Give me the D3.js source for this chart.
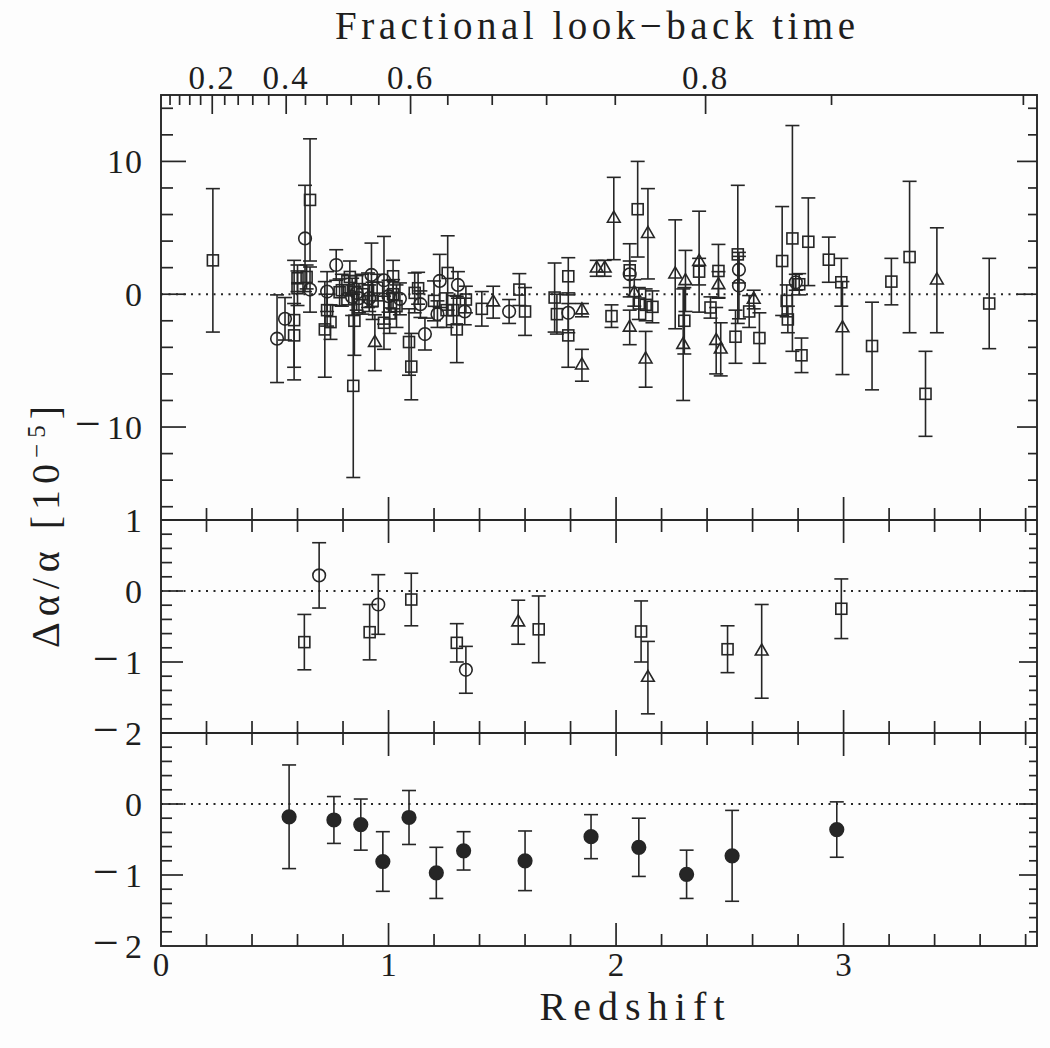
<!DOCTYPE html>
<html><head><meta charset="utf-8">
<script src="https://cdn.jsdelivr.net/npm/d3@7"></script>
<style>html,body{margin:0;padding:0;background:#fff;} svg{display:block;}</style>
</head><body><svg id="c" width="1050" height="1048"></svg>
<script>
// ---------- DATA ----------
// Top panel: individual absorbers [redshift, delta-alpha/alpha (1e-5), 1-sigma error]
const rawSquares = [
 [0.228,2.55,5.4],[0.585,-1.95,4.5],[0.585,-3.1,2.4],[0.60,1.2,1.0],[0.60,0.45,1.3],[0.655,7.1,4.6],
 [0.64,1.3,0.9],[0.73,-1.2,1.2],[0.72,-2.65,3.6],[0.745,-2.1,1.3],[0.785,0.15,1.0],[0.795,0.3,1.2],
 [0.825,0.3,1.1],[0.845,-6.9,6.9],[0.85,-2.0,2.6],[0.83,1.3,1.2],[0.885,0.0,1.5],[0.91,0.3,1.3],
 [0.93,-0.5,1.4],[0.95,0.5,1.0],[0.98,-2.15,2.0],[1.005,-1.45,1.5],[1.02,1.35,1.2],[1.02,0.0,1.1],
 [1.035,-0.9,1.6],[1.09,-3.6,2.5],[1.1,-5.45,2.5],[1.115,0.1,1.5],[1.13,0.45,1.2],[1.2,-0.5,1.5],
 [1.255,-1.2,1.3],[1.26,1.6,2.8],[1.285,-1.2,1.1],[1.3,-2.65,2.5],[1.34,-0.4,1.0],[1.41,-1.1,1.3],
 [1.575,0.35,1.2],[1.6,-1.3,1.8],[1.73,-0.25,2.6],[1.74,-1.5,1.5],[1.79,1.35,1.4],[1.79,-3.1,2.4],
 [1.98,-1.65,0.85],[2.06,1.8,2.0],[2.095,6.4,3.6],[2.1,-0.7,1.2],[2.13,-0.8,1.2],[2.16,-0.95,1.2],
 [2.3,-2.0,2.5],[2.365,1.7,1.0],[2.415,-1.0,0.8],[2.45,1.75,2.0],[2.535,3.0,5.2],[2.525,-3.2,2.0],
 [2.585,-1.3,1.2],[2.63,-3.3,1.9],[2.73,2.5,4.1],[2.75,-0.5,1.2],[2.755,-1.9,1.0],[2.775,4.2,8.5],
 [2.805,0.75,0.8],[2.815,-4.6,1.3],[2.845,3.95,3.3],[2.935,2.6,1.7],[2.99,0.9,1.8],[3.125,-3.9,3.3],
 [3.21,0.95,1.75],[3.29,2.8,5.7],[3.36,-7.5,3.2],[3.64,-0.7,3.4]
];
const rawCircles = [
 [0.51,-3.35,3.3],[0.545,-1.85,1.6],[0.633,4.2,4.0],[0.655,0.35,1.7],[0.73,0.2,1.5],[0.77,2.2,1.15],
 [0.84,-0.2,1.4],[0.86,0.1,1.3],[0.87,-0.3,1.1],[0.915,-0.3,1.0],[0.925,1.45,2.4],[0.98,1.05,3.3],
 [1.0,-0.15,1.2],[1.05,-0.35,1.2],[1.14,-0.75,1.0],[1.16,-3.0,1.2],[1.215,-1.5,1.0],[1.225,1.0,2.0],
 [1.305,0.7,1.0],[1.335,-1.3,1.0],[1.53,-1.3,0.9],[1.79,-1.4,1.5],[2.06,1.5,1.0],[2.54,1.85,1.0],
 [2.54,0.65,2.5],[2.79,0.9,0.6]
];
const rawTriangles = [
 [0.94,-3.65,2.1],[1.46,-0.6,1.2],[1.85,-5.35,1.2],[1.85,-1.2,0.5],[1.915,1.95,0.6],[1.95,1.95,0.6],
 [1.99,5.7,3.1],[2.06,-2.5,1.3],[2.08,0.1,1.0],[2.14,4.55,3.4],[2.13,-4.9,2.1],[2.26,1.5,4.1],
 [2.305,1.0,2.3],[2.295,-3.8,4.2],[2.365,2.45,3.8],[2.44,-3.5,2.5],[2.45,0.7,1.0],[2.46,-4.15,2.0],
 [2.605,-0.4,0.7],[2.995,-2.55,3.5],[3.41,1.05,3.95]
];
// Middle panel: binned per sample
const binSquares = [[0.63,-0.72,0.39],[0.917,-0.58,0.39],[1.1,-0.12,0.37],[1.3,-0.73,0.27],[1.66,-0.54,0.47],
 [2.11,-0.57,0.43],[2.49,-0.82,0.33],[2.99,-0.25,0.42]];
const binCircles = [[0.695,0.22,0.46],[0.955,-0.19,0.42],[1.34,-1.11,0.33]];
const binTriangles = [[1.57,-0.44,0.31],[2.14,-1.22,0.51],[2.64,-0.85,0.66]];
// Bottom panel: all samples binned
const binAll = [[0.563,-0.18,0.73],[0.76,-0.225,0.33],[0.878,-0.29,0.36],[0.975,-0.81,0.42],[1.09,-0.19,0.38],
 [1.21,-0.97,0.36],[1.33,-0.66,0.27],[1.6,-0.8,0.42],[1.89,-0.46,0.31],[2.1,-0.61,0.41],[2.31,-0.99,0.34],
 [2.51,-0.73,0.64],[2.97,-0.36,0.39]];
// Axis tick labels
const xLabels = [0,1,2,3];
const lookbackLabels = [0.2,0.4,0.6,0.8];
const topYLabels = [10,0,-10];
const midYLabels = [1,0,-1,-2];
const botYLabels = [0,-1,-2];

// ---------- LAYOUT ----------
const svg = d3.select("#c");
const L=161, R=1037, T=95, B1=520, B2=733, B3=946;
const ink="#262626", font="'Liberation Serif','DejaVu Serif',serif";
svg.append("rect").attr("width",1050).attr("height",1048).attr("fill","#fdfdfd");

const x = d3.scaleLinear().domain([0,3.85]).range([L,R]);
const yTop = d3.scaleLinear().domain([-17,15]).range([B1,T]);
const yMid = d3.scaleLinear().domain([-2,1]).range([B2,B1]);
const yBot = d3.scaleLinear().domain([-2,1]).range([B3,B2]);

// look-back time fraction -> redshift (flat, Om=0.3, OL=0.7)
const kC = Math.sqrt(0.7/0.3), A0 = Math.asinh(kC);
const zOfF = f => Math.pow(Math.sinh((1-f)*A0)/kC, -2/3) - 1;

// ---------- FRAME ----------
const frame = svg.append("g").attr("stroke",ink).attr("stroke-width",1.9).attr("fill","none");
frame.append("rect").attr("x",L).attr("y",T).attr("width",R-L).attr("height",B3-T);
[B1,B2].forEach(b=>frame.append("line").attr("x1",L).attr("x2",R).attr("y1",b).attr("y2",b));

// ---------- TICKS ----------
const tk = svg.append("g").attr("stroke",ink).attr("stroke-width",1.7);
function vt(xpos, y0, len){ tk.append("line").attr("x1",xpos).attr("x2",xpos).attr("y1",y0).attr("y2",y0+len); }
function ht(ypos, x0, len){ tk.append("line").attr("y1",ypos).attr("y2",ypos).attr("x1",x0).attr("x2",x0+len); }
const isInt = v => Math.abs(v-Math.round(v))<1e-6;
const xt = d3.range(1,20).map(i=>i*0.2).filter(v=>v<3.85);
xt.forEach(v=>{
  const len = isInt(v)?23:12;
  vt(x(v), B1, -len); vt(x(v), B1, len);
  vt(x(v), B2, -len); vt(x(v), B2, len);
  vt(x(v), B3, -len);
});
// top look-back axis
d3.range(1,23).map(i=>+(i*0.04).toFixed(2)).forEach(f=>{
  const major = lookbackLabels.some(l=>Math.abs(l-f)<1e-6);
  vt(x(zOfF(f)), T, major?19:10);
});
// y ticks top panel
d3.range(-16,15,2).forEach(v=>{
  const major = v%10===0;
  ht(yTop(v), L, major?25:12); ht(yTop(v), R, major?-20:-9);
});
[[yMid,-2,1],[yBot,-2,1]].forEach(([s,a,b])=>{
  d3.range(0,16).map(i=>+(a+i*0.2).toFixed(2)).filter(v=>v>a&&v<b).forEach(v=>{
    const major = isInt(v);
    ht(s(v), L, major?22:11); ht(s(v), R, major?-18:-8);
  });
});

// ---------- ZERO LINES ----------
[yTop(0),yMid(0),yBot(0)].forEach(yy=>svg.append("line").attr("x1",L).attr("x2",R).attr("y1",yy).attr("y2",yy)
  .attr("stroke",ink).attr("stroke-width",1.9).attr("stroke-dasharray","2,5.5"));

// ---------- POINTS ----------
const pts = svg.append("g").attr("stroke",ink).attr("stroke-width",1.6).attr("fill","none");
function errbars(data, ys){
  data.forEach(([z,v,e])=>{
    const xx=x(z), a=ys(v+e), b=ys(v-e);
    pts.append("line").attr("x1",xx).attr("x2",xx).attr("y1",a).attr("y2",b);
    pts.append("line").attr("x1",xx-7).attr("x2",xx+7).attr("y1",a).attr("y2",a);
    pts.append("line").attr("x1",xx-7).attr("x2",xx+7).attr("y1",b).attr("y2",b);
  });
}
function squares(data, ys){ data.forEach(([z,v])=>pts.append("rect").attr("x",x(z)-5.5).attr("y",ys(v)-5.5).attr("width",11).attr("height",11)); }
function circles(data, ys, filled){ data.forEach(([z,v])=>{
  const c=pts.append("circle").attr("cx",x(z)).attr("cy",ys(v)).attr("r",6.3);
  if(filled) c.attr("fill",ink).attr("r",6.8);
});}
const tri = d3.symbol().type(d3.symbolTriangle).size(70);
function triangles(data, ys){ data.forEach(([z,v])=>pts.append("path").attr("d",tri()).attr("transform",`translate(${x(z)},${ys(v)})`)); }

errbars(rawSquares,yTop); errbars(rawCircles,yTop); errbars(rawTriangles,yTop);
squares(rawSquares,yTop); circles(rawCircles,yTop); triangles(rawTriangles,yTop);
errbars(binSquares,yMid); errbars(binCircles,yMid); errbars(binTriangles,yMid);
squares(binSquares,yMid); circles(binCircles,yMid); triangles(binTriangles,yMid);
errbars(binAll,yBot); circles(binAll,yBot,true);

// ---------- LABELS ----------
const tx = svg.append("g").attr("font-family",font).attr("fill","#1e1e1e");
function ylab(vals, s){ vals.forEach(v=>{
  const t = tx.append("text").attr("x",143).attr("y",s(v)+12)
    .attr("text-anchor","end").attr("font-size",34).attr("letter-spacing",1);
  if(v<0){ t.append("tspan").attr("font-size",46).text("−");
           t.append("tspan").attr("dx",5).text(String(Math.abs(v))); }
  else t.text(String(v));
});}
ylab(topYLabels,yTop); ylab(midYLabels,yMid); ylab(botYLabels,yBot);
xLabels.forEach(v=>tx.append("text").attr("x",x(v)).attr("y",976).attr("text-anchor","middle").attr("font-size",33).text(String(v)));
lookbackLabels.forEach(f=>tx.append("text").attr("x",x(zOfF(f))).attr("y",89).attr("text-anchor","middle")
  .attr("font-size",33).attr("letter-spacing",2).text(f.toFixed(1)));
tx.append("text").attr("x",595).attr("y",39).attr("text-anchor","middle").attr("font-size",39)
  .attr("textLength",520).attr("lengthAdjust","spacing").text("Fractional look−back time");
tx.append("text").attr("x",632).attr("y",1020).attr("text-anchor","middle").attr("font-size",40)
  .attr("textLength",185).attr("lengthAdjust","spacing").text("Redshift");
const yl = tx.append("text").attr("transform","translate(59,524) rotate(-90)").attr("text-anchor","middle")
  .attr("font-size",40).attr("letter-spacing",6);
yl.append("tspan").text("Δα/α [10");
yl.append("tspan").attr("font-size",25).attr("dy",-14).text("−5");
yl.append("tspan").attr("dy",14).text("]");
</script></body></html>
